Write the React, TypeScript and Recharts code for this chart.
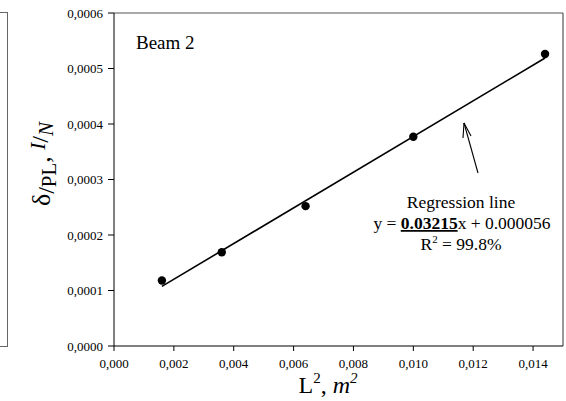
import React from "react";
import {
  ComposedChart,
  Scatter,
  XAxis,
  YAxis,
  ReferenceLine,
} from "recharts";

const lengthSquared = [0.0016, 0.0036, 0.0064, 0.01, 0.0144];
const deflection = [0.000118, 0.000169, 0.000252, 0.000377, 0.000526];
const xTicks = [0, 0.002, 0.004, 0.006, 0.008, 0.01, 0.012, 0.014];
const yTicks = [0, 0.0001, 0.0002, 0.0003, 0.0004, 0.0005, 0.0006];
const slope = 0.03215;
const intercept = 0.000056;

const FONT = "'Liberation Serif', 'Times New Roman', serif";

const points = lengthSquared.map((x, i) => ({ x, y: deflection[i] }));
const xFirst = lengthSquared[0];
const xLast = lengthSquared[lengthSquared.length - 1];

const Dot = (props: any) => (
  <circle cx={props.cx} cy={props.cy} r={4.2} fill="#000" />
);

const YLabel = () => (
  <text
    transform="translate(50,164) rotate(-90)"
    textAnchor="middle"
    fontFamily={FONT}
    fontSize={26}
    fill="#000"
  >
    <tspan>δ</tspan>
    <tspan fontSize={24} dy={4}>/</tspan>
    <tspan fontSize={21} dy={2}>PL</tspan>
    <tspan dy={-6}>, </tspan>
    <tspan fontStyle="italic" fontSize={21} dy={-5}>I</tspan>
    <tspan fontSize={24} dy={3}>/</tspan>
    <tspan fontStyle="italic" fontSize={21} dy={5}>N</tspan>
  </text>
);

const App = () => {
  return (
    <div
      style={{
        position: "absolute",
        left: 0,
        top: 0,
        width: 566,
        height: 401,
        background: "#fff",
      }}
    >
      {/* edge of the neighbouring panel */}
      <div
        style={{
          position: "absolute",
          left: 0,
          top: 12,
          width: 7,
          height: 333,
          borderRight: "1.5px solid #666",
          borderTop: "1.5px solid #666",
          borderBottom: "1.5px solid #666",
        }}
      />
      <ComposedChart
        width={566}
        height={401}
        margin={{ top: 13, right: 3, bottom: 0, left: 0 }}
        style={{ position: "absolute", left: 0, top: 0, fontFamily: FONT }}
      >
        <XAxis
          type="number"
          dataKey="x"
          domain={[0, 0.015]}
          ticks={xTicks}
          tickFormatter={(v: number) => v.toFixed(3).replace(".", ",")}
          height={55}
          tickSize={5}
          tickMargin={8}
          stroke="#000"
          tick={{ fontFamily: FONT, fontSize: 13, fill: "#000" }}
          allowDataOverflow
        />
        <YAxis
          type="number"
          dataKey="y"
          domain={[0, 0.0006]}
          ticks={yTicks}
          tickFormatter={(v: number) => v.toFixed(4).replace(".", ",")}
          width={114}
          tickSize={6}
          tickMargin={5}
          stroke="#000"
          tick={{ fontFamily: FONT, fontSize: 13, fill: "#000" }}
          allowDataOverflow
        />
        <ReferenceLine y={0.0006} stroke="#555" strokeWidth={1.2} />
        <ReferenceLine x={0.015} stroke="#555" strokeWidth={1.2} />
        <ReferenceLine
          segment={[
            { x: xFirst, y: slope * xFirst + intercept },
            { x: xLast, y: slope * xLast + intercept },
          ]}
          stroke="#000"
          strokeWidth={1.6}
        />
        <Scatter
          data={points}
          shape={<Dot />}
          isAnimationActive={false}
        />
      </ComposedChart>
      <svg
        width={566}
        height={401}
        style={{ position: "absolute", left: 0, top: 0, pointerEvents: "none" }}
      >
        <YLabel />
        <text
          x={328}
          y={393}
          textAnchor="middle"
          fontFamily={FONT}
          fontSize={24}
          fill="#000"
        >
          <tspan>L</tspan>
          <tspan fontSize={15} dy={-10}>2</tspan>
          <tspan dy={10}>, </tspan>
          <tspan fontStyle="italic">m</tspan>
          <tspan fontSize={15} fontStyle="italic" dy={-10}>2</tspan>
        </text>
        <text x={136} y={49} fontFamily={FONT} fontSize={19} fill="#000">
          Beam 2
        </text>
        <g fontFamily={FONT} fontSize={17.5} fill="#000" textAnchor="middle">
          <text x={461} y={208}>Regression line</text>
          <text x={462} y={229}>
            <tspan>y = </tspan>
            <tspan fontWeight="bold" textDecoration="underline">0.03215</tspan>
            <tspan>x + 0.000056</tspan>
          </text>
          <text x={461} y={250}>
            <tspan>R</tspan>
            <tspan fontSize={11} dy={-7}>2</tspan>
            <tspan dy={7}> = 99.8%</tspan>
          </text>
        </g>
        <g stroke="#000" strokeWidth={1.1} fill="none">
          <line x1={478} y1={173} x2={464} y2={123} />
          <line x1={464} y1={123} x2={463} y2={138} />
          <line x1={464} y1={123} x2={471} y2={136} />
        </g>
      </svg>
    </div>
  );
};

export default App;
